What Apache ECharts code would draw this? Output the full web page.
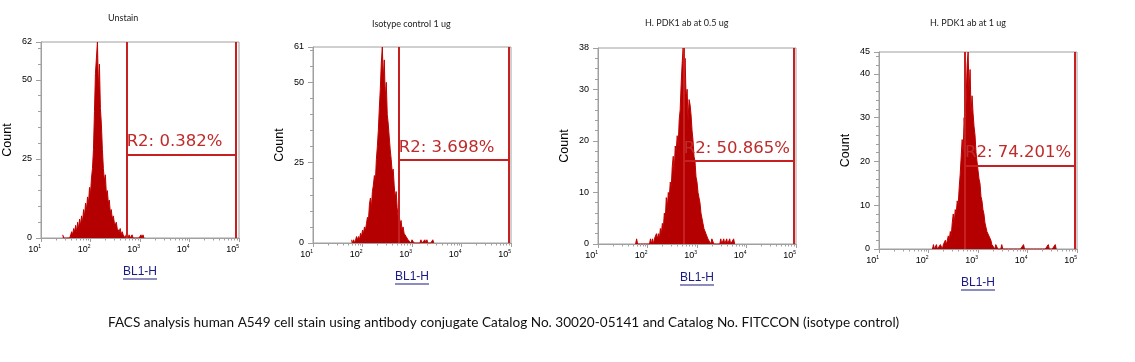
<!DOCTYPE html>
<html><head><meta charset="utf-8">
<script src="https://cdn.jsdelivr.net/npm/echarts@6/dist/echarts.min.js"></script>
<style>html,body{margin:0;padding:0;background:#fff}#c{width:1135px;height:362px}</style>
</head><body><div id="c"></div>
<script>
// ---------- DATA ----------
const BIN_STEP = 0.02;              // bin width in log10 units
const panelTitles = ['Unstain', 'Isotype control 1 ug', 'H. PDK1 ab at 0.5 ug', 'H. PDK1 ab at 1 ug'];
const caption = 'FACS analysis human A549 cell stain using antibody conjugate Catalog No. 30020-05141 and Catalog No. FITCCON (isotype control)';
const xName = 'BL1-H';
const yName = 'Count';
const xMin = 10, xMax = 100000;
const yMaxes = [62, 61, 38, 45];
const yIntervals = [25, 25, 10, 10];
const gateLow = [537, 540, 540, 545];
const gateHigh = [87000, 88000, 88000, 88000];
const gateLevel = [26.4, 25.8, 16.1, 19.1];
const gateLabels = ['R2: 0.382%', 'R2: 3.698%', 'R2: 50.865%', 'R2: 74.201%'];
const minorTickFactors = [2, 3, 4, 5, 6, 7, 8, 9];
const decadeStarts = [10, 100, 1000, 10000];

// histogram counts, first bin at 10^start, one bin every BIN_STEP decades
const p1Start = 1.44;
const p1Counts = [1,0,0,0,0,0,0,0,1,2, 1,3,2,4,2,5,3,6,4,7, 5,9,7,11,9,13,11,16,14,19,
  22,28,40,52,57,62,47,55,41,36, 28,22,18,20,14,15,11,12,8,9, 6,7,5,4,5,3,3,2,3,1,
  2,1,1,0,1,1,0,1,0,0, 1,0,0,0,0,0,0,0,0,1, 0,1,0];
const p2Start = 1.78;
const p2Counts = [1,0,1,0,1,2,1,2,1,3, 2,4,3,5,4,6,8,7,12,14, 11,16,18,21,19,26,30,35,42,48,
  56,61,51,57,45,50,40,37,33,29, 26,22,23,18,14,16,11,8,9,6, 7,4,5,3,3,2,2,1,1,1,
  0,1,1,0,0,0,0,0,0,0, 1,0,0,0,1,0,1,0,0,0, 0,0,1,0];
const p3Start = 1.76;
const p3Counts = [0,1,0,0,0,0,0,0,0,0, 0,0,0,0,0,1,0,1,0,1, 1,2,1,2,1,3,2,4,3,6,
  5,9,7,10,9,12,11,15,17,14, 19,18,21,19,24,26,31,35,38,33, 36,28,30,24,28,27,25,22,20,17,
  16,13,12,10,9,8,6,5,4,3, 3,2,2,1,1,1,0,1,1,0, 0,0,0,0,0,0,1,0,0,1, 0,0,1,0,0,1,0,0,0,1, 0];
const p4Start = 2.08;
const p4Counts = [0,1,0,0,1,0,0,0,1,1, 0,1,1,2,1,2,3,2,4,3, 6,8,6,9,8,11,10,14,17,21,
  25,22,30,26,34,42,45,36,41,31, 35,31,28,26,22,20,18,16,15,12, 11,9,8,6,5,4,4,3,3,2,
  1,1,1,0,1,1,0,0,0,0, 1,0,
  0,0,0,0,0,0,0,0,0,0,0,0,0,0,0,0,0,0,0,0, 1,
  0,0,0,0,0,0,0,0,0,0,0,0,0,0,0,0,0,0,0,0,0,0,0,0, 1,
  0,0,0,0,0,0, 1, 0];

const starts = [p1Start, p2Start, p3Start, p4Start];
const counts = [p1Counts, p2Counts, p3Counts, p4Counts];

// ---------- LAYOUT / STYLE ----------
const grids = [
  {left: 41, top: 42, width: 198, height: 196},
  {left: 313, top: 47, width: 198, height: 196},
  {left: 598, top: 48, width: 198, height: 196},
  {left: 879, top: 52, width: 198, height: 197}
];
const titlePos = [[108, 14], [372, 20], [645, 19], [930, 19]];
const axisGray = '#a0a0a0';
const histFill = '#b40000';
const histLine = '#c00000';
const gateColor = '#c82020';
const linkBlue = '#1a1a80';

const minorTicks = [];
decadeStarts.forEach(d => minorTickFactors.forEach(f => minorTicks.push([d * f, 0])));

const option = {
  animation: false,
  backgroundColor: '#fff',
  title: [],
  grid: [], xAxis: [], yAxis: [], series: []
};

panelTitles.forEach((t, i) => {
  option.title.push({
    text: t, left: titlePos[i][0], top: titlePos[i][1], padding: 0,
    textStyle: {fontSize: 9, fontWeight: 'normal', color: '#222', fontFamily: 'Lato'}
  });
});
option.title.push({
  text: caption, left: 108, top: 316, padding: 0,
  textStyle: {fontSize: 13.6, fontWeight: 'normal', color: '#111', fontFamily: 'Lato'}
});

for (let i = 0; i < 4; i++) {
  option.grid.push(Object.assign({show: true, borderColor: axisGray, borderWidth: 1,
    backgroundColor: '#fff', containLabel: false, outerBoundsMode: 'none'}, grids[i]));
  option.xAxis.push({
    type: 'log', logBase: 10, gridIndex: i, min: xMin, max: xMax,
    name: '{t|' + xName + '}\n{u| }', nameLocation: 'middle', nameGap: 27,
    nameTextStyle: {
      rich: {
        t: {fontSize: 12, color: linkBlue, fontFamily: 'Liberation Sans', lineHeight: 13},
        u: {width: 34, height: 1, lineHeight: 2, fontSize: 1, backgroundColor: linkBlue}
      }
    },
    axisLine: {show: true, lineStyle: {color: axisGray, width: 1}},
    axisTick: {show: true, length: 4, lineStyle: {color: axisGray}},
    splitLine: {show: false},
    axisLabel: {
      show: true, margin: 6, align: 'right', showMinLabel: true, showMaxLabel: true,
      formatter: v => '{b|10}{s|' + Math.round(Math.log10(v)) + '}',
      rich: {
        b: {fontSize: 9, color: '#000', fontFamily: 'Liberation Sans', lineHeight: 11},
        s: {fontSize: 5, color: '#000', fontFamily: 'Liberation Sans', verticalAlign: 'top', lineHeight: 11}
      }
    }
  });
  option.yAxis.push({
    type: 'value', gridIndex: i, min: 0, max: yMaxes[i], interval: yIntervals[i],
    name: yName, nameLocation: 'middle', nameGap: 27,
    nameTextStyle: {fontSize: 12.5, color: '#000', fontFamily: 'Liberation Sans'},
    axisLine: {show: true, lineStyle: {color: axisGray, width: 1}},
    axisTick: {show: true, length: 5, lineStyle: {color: axisGray}},
    minorTick: {show: true, splitNumber: 5, length: 3, lineStyle: {color: axisGray}},
    splitLine: {show: false},
    axisLabel: {show: true, margin: 9, fontSize: 9, color: '#000', fontFamily: 'Liberation Sans',
      showMinLabel: true, showMaxLabel: true, hideOverlap: false}
  });
  // histogram
  option.series.push({
    type: 'line', xAxisIndex: i, yAxisIndex: i, showSymbol: false, symbol: 'none',
    data: counts[i].map((c, k) => [Math.pow(10, starts[i] + k * BIN_STEP), c]),
    lineStyle: {color: histLine, width: 1}, areaStyle: {color: histFill, opacity: 1},
    silent: true, z: 2
  });
  // gate
  option.series.push({
    type: 'line', xAxisIndex: i, yAxisIndex: i, data: [], silent: true, z: 5,
    markLine: {
      silent: true, symbol: ['none', 'none'], animation: false,
      lineStyle: {color: gateColor, width: 2, type: 'solid'},
      label: {show: false},
      data: [
        {xAxis: gateLow[i]},
        {xAxis: gateHigh[i]},
        [{coord: [gateLow[i], gateLevel[i]]}, {coord: [gateHigh[i], gateLevel[i]],
          label: {show: true, position: 'insideStartTop', formatter: gateLabels[i], distance: [0, 4],
            fontSize: 16.5, color: '#bf2a2a', fontFamily: 'DejaVu Sans'}}]
      ]
    }
  });
  // x minor (log) ticks
  option.series.push({
    type: 'custom', xAxisIndex: i, yAxisIndex: i, silent: true, clip: false, z: 3,
    data: minorTicks,
    renderItem: (params, api) => {
      const p = api.coord([api.value(0), 0]);
      const x = Math.round(p[0]) + 0.5;
      return {type: 'line', shape: {x1: x, y1: p[1], x2: x, y2: p[1] + 2.5},
        style: {stroke: axisGray, lineWidth: 1}};
    }
  });
}

const chart = echarts.init(document.getElementById('c'), null, {renderer: 'canvas'});
chart.setOption(option);
</script></body></html>
